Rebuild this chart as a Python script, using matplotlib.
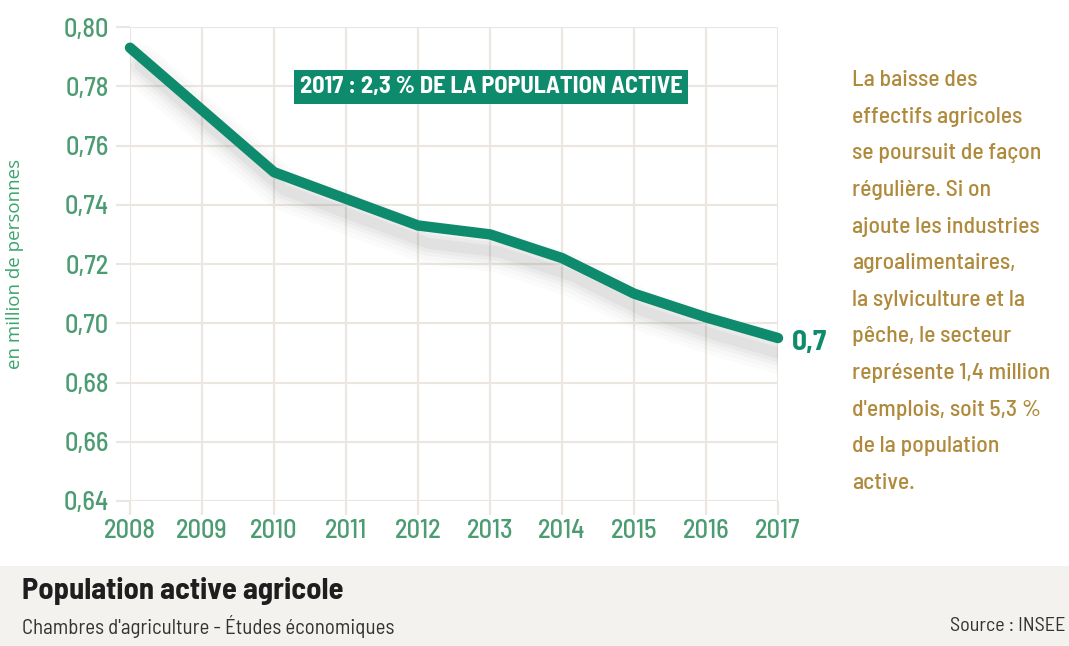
import matplotlib
matplotlib.use("Agg")
import matplotlib.pyplot as plt
import matplotlib.patches as mpatches

# data
years = [2008, 2009, 2010, 2011, 2012, 2013, 2014, 2015, 2016, 2017]
actifs = [0.793, 0.772, 0.751, 0.742, 0.733, 0.730, 0.722, 0.710, 0.702, 0.695]
yticks = [0.64, 0.66, 0.68, 0.70, 0.72, 0.74, 0.76, 0.78, 0.80]
ytick_labels = ["0,64", "0,66", "0,68", "0,70", "0,72", "0,74", "0,76", "0,78", "0,80"]
last_label = "0,7"
badge = "2017 : 2,3 % DE LA POPULATION ACTIVE"
comment = ("La baisse des\neffectifs agricoles\nse poursuit de façon\nrégulière. Si on\n"
           "ajoute les industries\nagroalimentaires,\nla sylviculture et la\n"
           "pêche, le secteur\nreprésente 1,4 million\nd'emplois, soit 5,3 %\n"
           "de la population\nactive.")
title = "Population active agricole"
subtitle = "Chambres d'agriculture - Études économiques"
source = "Source : INSEE"

plt.rcParams["font.family"] = ["Barlow Semi Condensed", "DejaVu Sans"]

teal = "#0e8a6c"
tick_green = "#4c9c72"
gold = "#b08a3c"
grid_c = "#ebe6e0"

fig = plt.figure(figsize=(10.69, 6.46), dpi=100)
fig.patch.set_facecolor("white")

# bottom band
fig.patches.append(mpatches.Rectangle((0, 0), 1, 80 / 646, transform=fig.transFigure,
                                      facecolor="#f4f2ee", edgecolor="none", zorder=0))
fig.text(22 / 1069, 1 - 591 / 646, title, fontsize=22, fontweight="bold",
         color="#1e1e1e", va="center", ha="left")
fig.text(22 / 1069, 1 - 626 / 646, subtitle, fontsize=15, color="#333333",
         va="center", ha="left")
fig.text(1066 / 1069, 1 - 626 / 646, source, fontsize=14.5, color="#333333",
         va="center", ha="right")

ax = fig.add_axes([130 / 1069, 1 - 501 / 646, 648 / 1069, 474 / 646])
ax.set_xlim(2008, 2017)
ax.set_ylim(0.64, 0.80)

# soft shadow under the line
for lw, a in [(30, 0.02), (24, 0.025), (18, 0.035), (13, 0.045), (8, 0.055)]:
    ax.plot([x + 0.14 for x in years], [y - 0.006 for y in actifs], color="#555555",
            lw=lw, alpha=a, solid_capstyle="round", solid_joinstyle="round", zorder=2)
ax.plot(years, actifs, color=teal, lw=7.5, solid_capstyle="round",
        solid_joinstyle="round", zorder=3, clip_on=False)

ax.set_xticks(years)
ax.set_xticklabels([str(y) for y in years])
ax.set_yticks(yticks)
ax.set_yticklabels(ytick_labels)
ax.grid(True, color=grid_c, lw=1.5, zorder=0)
ax.tick_params(axis="both", colors=grid_c, width=1.5, length=10, labelsize=19,
               labelcolor=tick_green, pad=5)
ax.tick_params(axis="x", pad=3)
for lab in ax.get_xticklabels() + ax.get_yticklabels():
    lab.set_fontweight("medium")
for s in ax.spines.values():
    s.set_visible(False)
ax.set_ylabel("en million de personnes", color="#3aa56e", fontsize=13.5,
              family=["Open Sans", "DejaVu Sans"])
ax.yaxis.set_label_coords(-0.163, 0.5)

ax.annotate(last_label, (years[-1], actifs[-1]), xytext=(10, -3), textcoords="offset points",
            fontsize=21, fontweight="bold", color=teal, va="center", ha="left",
            annotation_clip=False)

fig.text(491 / 1069, 1 - 87 / 646, badge, fontsize=17.5, fontweight="bold", color="white",
         ha="center", va="center",
         bbox=dict(boxstyle="square,pad=0.25", facecolor=teal, edgecolor="none"))

fig.text(852 / 1069, 1 - 70 / 646, comment, fontsize=17, color=gold, ha="left",
         va="top", linespacing=2.04, fontweight="medium")

fig.savefig("out.png", dpi=100)
